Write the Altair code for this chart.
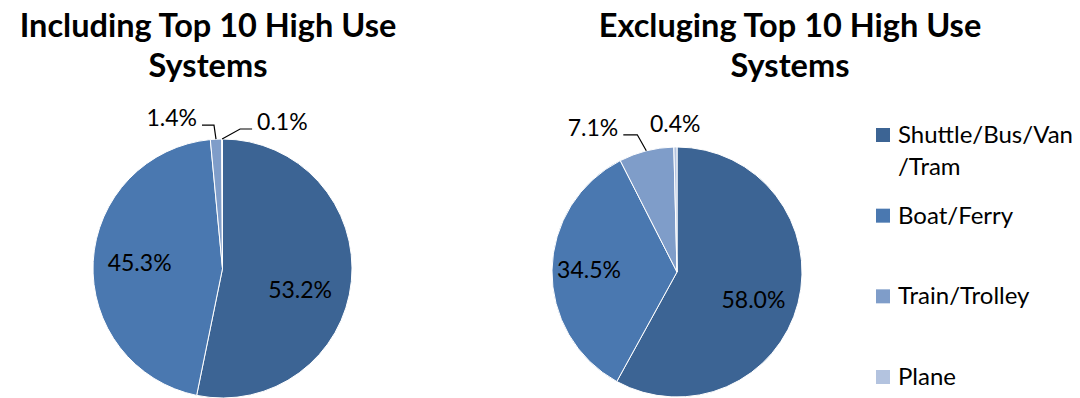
import math
import altair as alt
import pandas as pd

# ---------------- data ----------------
categories = ["Shuttle/Bus/Van/Tram", "Boat/Ferry", "Train/Trolley", "Plane"]
legend_labels = ["Shuttle/Bus/Van\n/Tram", "Boat/Ferry", "Train/Trolley", "Plane"]
including = [53.2, 45.3, 1.4, 0.1]
excluding = [58.0, 34.5, 7.1, 0.4]
titles = ["Including Top 10 High Use\nSystems", "Excluging Top 10 High Use\nSystems"]
colors = ["#3C6494", "#4A78B0", "#7F9DC9", "#B3C3DF"]

# ---------------- style ----------------
FONT = "Lato"
W, H = 1064, 390
LABEL_SIZE = 23
LEGEND_SIZE = 24
theta_scale = alt.Scale(domain=[0, 100], range=[0, 2 * math.pi])
color_scale = alt.Scale(domain=categories, range=colors)


def pie_frame(values, pie):
    rows, cum = [], 0.0
    for i, (c, v) in enumerate(zip(categories, values)):
        rows.append(dict(pie=pie, idx=i, category=c, value=v, start=cum,
                         end=cum + v, mid=cum + v / 2, label=f"{v:.1f}%"))
        cum += v
    return pd.DataFrame(rows)


def polar(cx, cy, r, pct):
    a = pct / 100 * 2 * math.pi
    return cx + r * math.sin(a), cy - r * math.cos(a)


pies = [
    dict(values=including, cx=214.5, cy=260.5, r=129.5, title_x=200,
         inside={0: dict(r=86, dx=-8, dy=14), 1: dict(r=83, dx=0, dy=0)},
         # category idx -> (elbow offset, horizontal run, label side)
         leaders={2: ((-2, -14), -12, "right"), 3: ((18, -10), 12, "left")},
         polar_out={}),
    dict(values=excluding, cx=669, cy=264, r=125, title_x=782,
         inside={0: dict(r=83, dx=-4, dy=8), 1: dict(r=88, dx=0, dy=0)},
         leaders={2: ((-9, -16), -14, "right")},
         polar_out={3: dict(r=147)}),
]

layers = []
for p_i, p in enumerate(pies):
    df = pie_frame(p["values"], p_i)
    cx, cy, r = p["cx"], p["cy"], p["r"]

    # slices
    layers.append(
        alt.Chart(df).mark_arc(radius=r, stroke="white", strokeWidth=1).encode(
            x=alt.value(cx), y=alt.value(cy),
            theta=alt.Theta("start:Q", scale=theta_scale, stack=False),
            theta2="end:Q",
            color=alt.Color("category:N", scale=color_scale, legend=None),
        )
    )

    # inside labels
    for idx, s in p["inside"].items():
        layers.append(
            alt.Chart(df[df["idx"] == idx]).mark_text(
                font=FONT, fontSize=LABEL_SIZE, color="black", radius=s["r"],
                dx=s["dx"], dy=s["dy"], align="center", baseline="middle",
            ).encode(
                x=alt.value(cx), y=alt.value(cy),
                theta=alt.Theta("mid:Q", scale=theta_scale, stack=False),
                text="label:N",
            )
        )

    # outside labels without leader
    for idx, s in p["polar_out"].items():
        layers.append(
            alt.Chart(df[df["idx"] == idx]).mark_text(
                font=FONT, fontSize=LABEL_SIZE, color="black", radius=s["r"],
                align="center", baseline="middle",
            ).encode(
                x=alt.value(cx), y=alt.value(cy),
                theta=alt.Theta("mid:Q", scale=theta_scale, stack=False),
                text="label:N",
            )
        )

    # leader lines + their labels (geometry derived from slice angles)
    lead_rows, lab_rows = [], []
    for idx, (elb, run, side) in p["leaders"].items():
        row = df[df["idx"] == idx].iloc[0]
        sx, sy = polar(cx, cy, r, row["mid"])
        ex, ey = sx + elb[0], sy + elb[1]
        tx, ty = ex + run, ey
        key = f"{p_i}-{idx}"
        for o, (x, y) in enumerate([(sx, sy), (ex, ey), (tx, ty)]):
            lead_rows.append(dict(key=key, o=o, x=x, y=y))
        gap = 5
        lab_rows.append(dict(label=row["label"],
                             x=tx - gap if side == "right" else tx + gap,
                             y=ty - 6, side=side))
    if lead_rows:
        ld = pd.DataFrame(lead_rows)
        layers.append(
            alt.Chart(ld).mark_line(color="black", strokeWidth=1.2).encode(
                x=alt.X("x:Q", scale=None), y=alt.Y("y:Q", scale=None),
                detail="key:N", order="o:Q",
            )
        )
        lb = pd.DataFrame(lab_rows)
        for side in ["left", "right"]:
            sub = lb[lb["side"] == side]
            if len(sub):
                layers.append(
                    alt.Chart(sub).mark_text(
                        font=FONT, fontSize=LABEL_SIZE, color="black",
                        align=side, baseline="middle",
                    ).encode(
                        x=alt.X("x:Q", scale=None), y=alt.Y("y:Q", scale=None),
                        text="label:N",
                    )
                )

    # title
    layers.append(
        alt.Chart(pd.DataFrame({"t": [titles[p_i]]})).mark_text(
            font=FONT, fontSize=32.5, fontWeight="bold", color="black",
            align="center", baseline="top", lineBreak="\n", lineHeight=40,
        ).encode(x=alt.value(p["title_x"]), y=alt.value(3), text="t:N")
    )

# legend (manual)
leg = pd.DataFrame({"idx": list(range(4)), "category": categories,
                    "lab": legend_labels})
leg_y = alt.Y("idx:Q", scale=alt.Scale(domain=[0, 3], range=[127, 369],
                                       zero=False, nice=False), axis=None)
layers.append(
    alt.Chart(leg).mark_square(size=196, opacity=1).encode(
        x=alt.value(875), y=leg_y,
        color=alt.Color("category:N", scale=color_scale, legend=None),
    )
)
layers.append(
    alt.Chart(leg).mark_text(
        font=FONT, fontSize=LEGEND_SIZE, color="black", align="left",
        baseline="alphabetic", dy=8, lineBreak="\n", lineHeight=32,
    ).encode(x=alt.value(890), y=leg_y, text="lab:N")
)

chart = (
    alt.layer(*layers)
    .resolve_scale(x="independent", y="independent")
    .properties(width=W, height=H, padding=0, autosize="none")
    .configure_view(stroke=None)
)

chart.save("out.html", embed_options={"renderer": "svg", "actions": False})
